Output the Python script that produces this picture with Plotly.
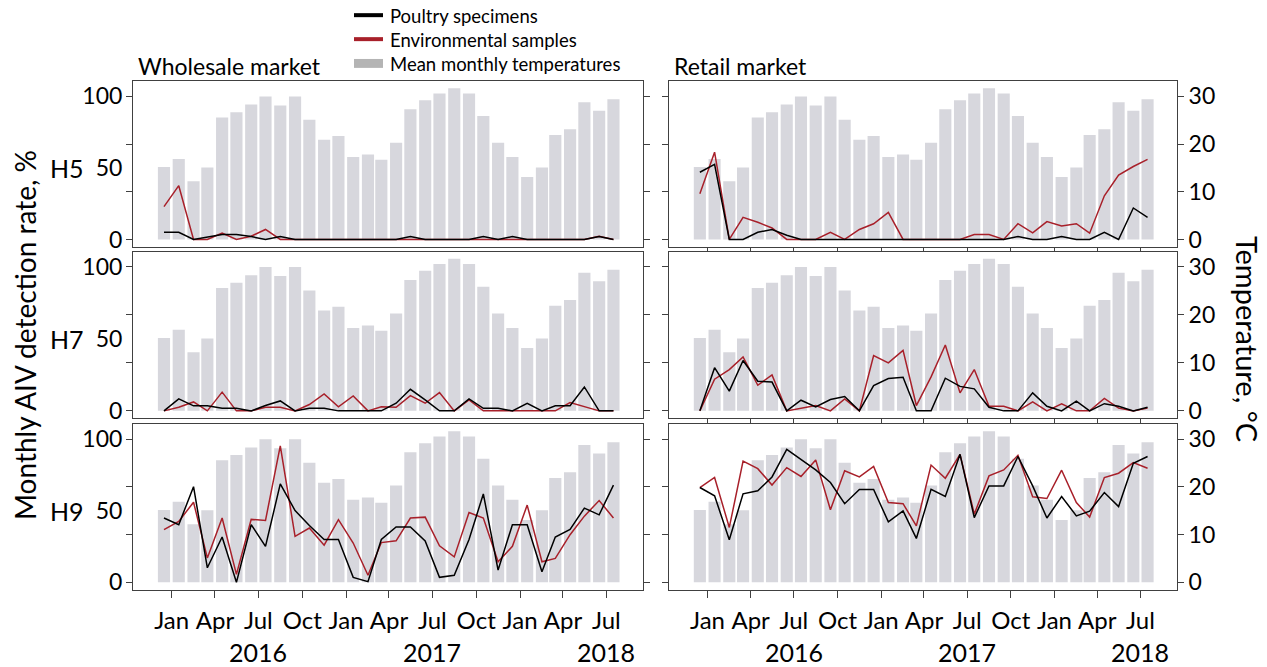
import plotly.graph_objects as go
import pandas as pd

# ---------------- data ----------------
month_starts = ["2015-12-01", "2016-01-01", "2016-02-01", "2016-03-01", "2016-04-01", "2016-05-01",
                "2016-06-01", "2016-07-01", "2016-08-01", "2016-09-01", "2016-10-01", "2016-11-01",
                "2016-12-01", "2017-01-01", "2017-02-01", "2017-03-01", "2017-04-01", "2017-05-01",
                "2017-06-01", "2017-07-01", "2017-08-01", "2017-09-01", "2017-10-01", "2017-11-01",
                "2017-12-01", "2018-01-01", "2018-02-01", "2018-03-01", "2018-04-01", "2018-05-01",
                "2018-06-01", "2018-07-01"]

temperature = [15.2, 16.9, 12.2, 15.1, 25.6, 26.7, 28.3, 30.0, 28.1, 30.0, 25.1, 20.9, 21.7, 17.3,
               17.8, 16.7, 20.3, 27.3, 29.2, 30.6, 31.7, 30.6, 25.9, 20.3, 17.3, 13.1, 15.1, 21.9,
               23.1, 28.8, 27.0, 29.4]

wholesale_h5_poultry = [5, 5, 0, 1.6, 3.5, 3.5, 2, 0, 2, 0, 0, 0, 0, 0, 0, 0, 0, 2, 0, 0, 0, 0, 2, 0,
                        2, 0, 0, 0, 0, 0, 2, 0]
wholesale_h5_env = [23, 37.6, 0, 0, 4.4, 0, 2.3, 7, 0, 0, 0, 0, 0, 0, 0, 0, 0, 0, 0, 0, 0, 0, 0, 0,
                    0, 0, 0, 0, 0, 0, 2.3, 0]
wholesale_h7_poultry = [0, 8.3, 3.5, 3.5, 1.8, 1.8, 0, 3.7, 6.9, 0, 1.8, 1.8, 0, 0, 0, 0, 5.3, 15, 7.6,
                        0, 0, 8.3, 1.8, 1.8, 0, 5.3, 0, 3.5, 3.5, 16.6, 0, 0]
wholesale_h7_env = [0, 2.5, 6.2, 0, 13, 0, 0, 2.5, 2.5, 0, 4.4, 11.8, 2.8, 10.4, 0, 2.8, 2.5, 10.6,
                    5.3, 12.7, 0, 7.6, 0, 0, 0, 0, 0, 0, 5.8, 3, 0, 0]
wholesale_h9_poultry = [45, 40.3, 66.9, 10.2, 31.7, 0, 40.3, 25.2, 68.8, 50.2, 39.8, 30, 30, 3.5, 0.5,
                        30, 38.7, 38.7, 29, 3.5, 5, 30, 61.8, 8.6, 40.3, 40.3, 7.4, 31.7, 37, 51.9,
                        47.2, 68]
wholesale_h9_env = [36.8, 42.6, 56, 17.1, 45, 5.6, 44, 43.3, 95.4, 32.2, 38, 26, 43.8, 27.5, 5, 27.8,
                    29, 45, 45.6, 25.5, 17.8, 48.8, 45, 14.4, 25.2, 54, 14.4, 16.7, 33.3, 46.3, 57.2, 45]

retail_h5_poultry = [47, 52.5, 0, 0, 5, 7, 3, 0, 0, 0, 0, 0, 0, 0, 0, 0, 0, 0, 0, 0, 0, 0, 2, 0, 0, 2,
                     0, 0, 5, 0, 22, 15.5]
retail_h5_env = [32, 61, 0, 15.5, 12, 8, 0, 0, 0, 5, 0, 7, 11, 19, 0, 0, 0, 0, 0, 3.5, 3.5, 0, 11,
                 4.6, 12.5, 9.5, 11, 4.4, 30.5, 45, 51, 56]
retail_h7_poultry = [0, 30, 13.7, 35, 20.6, 20, 0, 7.4, 2.8, 7.9, 10, 0, 17.6, 22.5, 23.4, 0, 0, 22.7,
                     17, 15.3, 2.5, 0, 0, 12.5, 3.2, 0, 6.7, 0, 5, 3.2, 0, 2.5]
retail_h7_env = [0, 22, 28.7, 37.5, 17.8, 25, 0, 2, 3.7, 0, 8.3, 0, 38.4, 33.3, 42, 3.7, 23.6, 45.8,
                 12.5, 28.7, 3.2, 3.2, 0, 6.2, 0, 4.9, 0, 0, 8.6, 1.9, 0, 1.9]
retail_h9_poultry = [66.3, 60.5, 29.8, 61.9, 64, 73.7, 93, 86, 78.6, 69.8, 55, 65, 65, 42.3, 50, 30.7,
                     65, 60, 89.5, 45.3, 67.4, 67.4, 88, 67.4, 45, 60, 46.5, 49.8, 62.8, 53, 83.3, 88]
retail_h9_env = [66.3, 73.3, 38.4, 84.7, 79.5, 68, 80.2, 74, 85.6, 50.7, 78, 73.7, 81, 55.8, 55, 39.5,
                 82, 72.8, 89.5, 47.7, 74.4, 78.6, 88.8, 59.8, 58.6, 78.4, 55.8, 45.6, 73.3, 76.3,
                 83.7, 79.8]

subtypes = ["H5", "H7", "H9"]
markets = ["Wholesale market", "Retail market"]
series = {
    (0, 0): (wholesale_h5_poultry, wholesale_h5_env),
    (0, 1): (retail_h5_poultry, retail_h5_env),
    (1, 0): (wholesale_h7_poultry, wholesale_h7_env),
    (1, 1): (retail_h7_poultry, retail_h7_env),
    (2, 0): (wholesale_h9_poultry, wholesale_h9_env),
    (2, 1): (retail_h9_poultry, retail_h9_env),
}
legend_names = ["Poultry specimens", "Environmental samples", "Mean monthly temperatures"]
year_labels = ["2016", "2017", "2018"]
year_pos = ["2016-07-01", "2017-07-01", "2018-07-01"]
pct_labels = ["0", "50", "100"]
pct_ticks = [0, 50, 100]
temp_ticks = [0, 10, 20, 30]

# ---------------- style ----------------
W, H = 1267, 667
FONT = "Lato"
BAR_COLOR = "#D7D7DD"
LEG_BAR = "#B4B4B4"
RED = "#A8202A"
BLACK = "#000000"
AXC = "#404040"

x_mid = pd.to_datetime(month_starts) + pd.Timedelta(days=15)
xrange = ["2015-10-12", "2018-09-16"]
pct_range = [-5.1, 110.6]
temp_range = [v * 0.3 for v in pct_range]
col_px = [(133, 643), (669, 1177)]
row_px = [(82, 249), (254, 422), (428, 595)]

fig = go.Figure()
layout = {}

for r in range(3):
    for c in range(2):
        idx = r * 2 + c + 1
        xn = "x" if idx == 1 else f"x{idx}"
        yt_n = 2 * idx - 1
        yp_n = 2 * idx
        yt = "y" if yt_n == 1 else f"y{yt_n}"
        yp = f"y{yp_n}"
        fig.add_trace(go.Bar(x=x_mid, y=temperature, xaxis=xn, yaxis=yt,
                             name=legend_names[2],
                             marker=dict(color=BAR_COLOR, line=dict(width=0)),
                             width=25.5 * 86400000, showlegend=False, hoverinfo="skip"))
        poultry, env = series[(r, c)]
        fig.add_trace(go.Scatter(x=x_mid, y=env, xaxis=xn, yaxis=yp, mode="lines",
                                 name=legend_names[1],
                                 line=dict(color=RED, width=1.5), showlegend=False))
        fig.add_trace(go.Scatter(x=x_mid, y=poultry, xaxis=xn, yaxis=yp, mode="lines",
                                 name=legend_names[0],
                                 line=dict(color=BLACK, width=1.5), showlegend=False))

        xd = [col_px[c][0] / W, col_px[c][1] / W]
        yd = [1 - row_px[r][1] / H, 1 - row_px[r][0] / H]
        xkey = "xaxis" if idx == 1 else f"xaxis{idx}"
        ytkey = "yaxis" if yt_n == 1 else f"yaxis{yt_n}"
        ypkey = f"yaxis{yp_n}"

        bottom = (r == 2)
        layout[xkey] = dict(
            domain=xd, anchor=yt, type="date", range=xrange,
            tick0="2016-01-01", dtick="M3", tickformat="%b",
            showticklabels=bottom,
            ticks="outside", ticklen=7 if bottom else (4 if c == 1 else 0),
            tickcolor=AXC, tickwidth=1,
            showline=True, linecolor=AXC, linewidth=1, mirror=True,
            showgrid=False, zeroline=False,
            tickfont=dict(family=FONT, size=24, color="black"),
            ticklabelstandoff=3,
        )
        layout[ytkey] = dict(
            domain=yd, anchor=xn, side="right", range=temp_range,
            tickmode="array", tickvals=temp_ticks, ticktext=[str(t) for t in temp_ticks],
            showticklabels=(c == 1),
            ticks="outside", ticklen=6, tickcolor=AXC, tickwidth=1,
            showline=True, linecolor=AXC, linewidth=1,
            showgrid=False, zeroline=False,
            tickfont=dict(family=FONT, size=23, color="black"),
        )
        if c == 0:
            layout[ypkey] = dict(
                overlaying=yt, anchor=xn, side="left", range=pct_range,
                tickmode="array", tickvals=pct_ticks, ticktext=pct_labels,
                ticks="outside", ticklen=5, tickcolor="rgba(0,0,0,0)",
                minor=dict(tickmode="array", tickvals=[0, 100 / 3, 200 / 3, 100],
                           ticks="outside", ticklen=6, tickcolor=AXC, tickwidth=1, showgrid=False),
                showline=True, linecolor=AXC, linewidth=1,
                showgrid=False, zeroline=False,
                tickfont=dict(family=FONT, size=23, color="black"),
            )
        else:
            layout[ypkey] = dict(
                overlaying=yt, anchor=xn, side="left", range=pct_range,
                tickmode="array", tickvals=[0, 100 / 3, 200 / 3, 100],
                showticklabels=False,
                ticks="outside", ticklen=6, tickcolor=AXC, tickwidth=1,
                showline=True, linecolor=AXC, linewidth=1,
                showgrid=False, zeroline=False,
            )

annotations = []
shapes = []
# legend (key swatches + labels)
leg_y = [15.3, 39.5, 64]
for i, name in enumerate(legend_names):
    annotations.append(dict(text=name, x=388 / W, y=1 - (leg_y[i] + 0.5) / H, xref="paper", yref="paper",
                            xanchor="left", yanchor="middle", showarrow=False,
                            font=dict(family=FONT, size=18.5, color="black")))
shapes.append(dict(type="line", xref="paper", yref="paper", x0=354 / W, x1=383 / W,
                   y0=1 - leg_y[0] / H, y1=1 - leg_y[0] / H, line=dict(color=BLACK, width=4)))
shapes.append(dict(type="line", xref="paper", yref="paper", x0=354 / W, x1=383 / W,
                   y0=1 - leg_y[1] / H, y1=1 - leg_y[1] / H, line=dict(color=RED, width=4)))
shapes.append(dict(type="rect", xref="paper", yref="paper", x0=354 / W, x1=383 / W,
                   y0=1 - 68.5 / H, y1=1 - 59.5 / H, fillcolor=LEG_BAR, line=dict(width=0)))

# panel titles
for c, mk in enumerate(markets):
    annotations.append(dict(text=mk, x=(col_px[c][0] + 3) / W, y=1 - 67 / H, xref="paper", yref="paper",
                            xanchor="left", yanchor="middle", showarrow=False,
                            font=dict(family=FONT, size=23, color="black")))
# axis titles
annotations.append(dict(text="Monthly AIV detection rate, %", x=25 / W, y=1 - 338 / H,
                        xref="paper", yref="paper", textangle=-90, showarrow=False,
                        xanchor="center", yanchor="middle",
                        font=dict(family=FONT, size=28, color="black")))
annotations.append(dict(text="Temperature, °C", x=1247 / W, y=1 - 342 / H,
                        xref="paper", yref="paper", textangle=90, showarrow=False,
                        xanchor="center", yanchor="middle",
                        font=dict(family=FONT, size=29, color="black")))
# subtype labels
for r, st in enumerate(subtypes):
    idx = r * 2 + 1
    annotations.append(dict(text=st, x=67 / W, y=50, xref="paper", yref=f"y{2 * idx}",
                            showarrow=False, xanchor="center", yanchor="middle",
                            font=dict(family=FONT, size=25, color="black")))
# year labels
for c in range(2):
    xn = "x5" if c == 0 else "x6"
    for yl, yp in zip(year_labels, year_pos):
        annotations.append(dict(text=yl, x=yp, y=0, xref=xn, yref="paper", yshift=-8,
                                showarrow=False, xanchor="center", yanchor="bottom",
                                font=dict(family=FONT, size=25, color="black")))

fig.update_layout(
    width=W, height=H,
    margin=dict(l=0, r=0, t=0, b=0),
    paper_bgcolor="white", plot_bgcolor="white",
    barmode="overlay",
    showlegend=False,
    font=dict(family=FONT, size=16, color="black"),
    annotations=annotations,
    shapes=shapes,
    **layout,
)

fig.write_html("out.html", config={"displayModeBar": False},
               post_script="document.body.style.margin='0';")
